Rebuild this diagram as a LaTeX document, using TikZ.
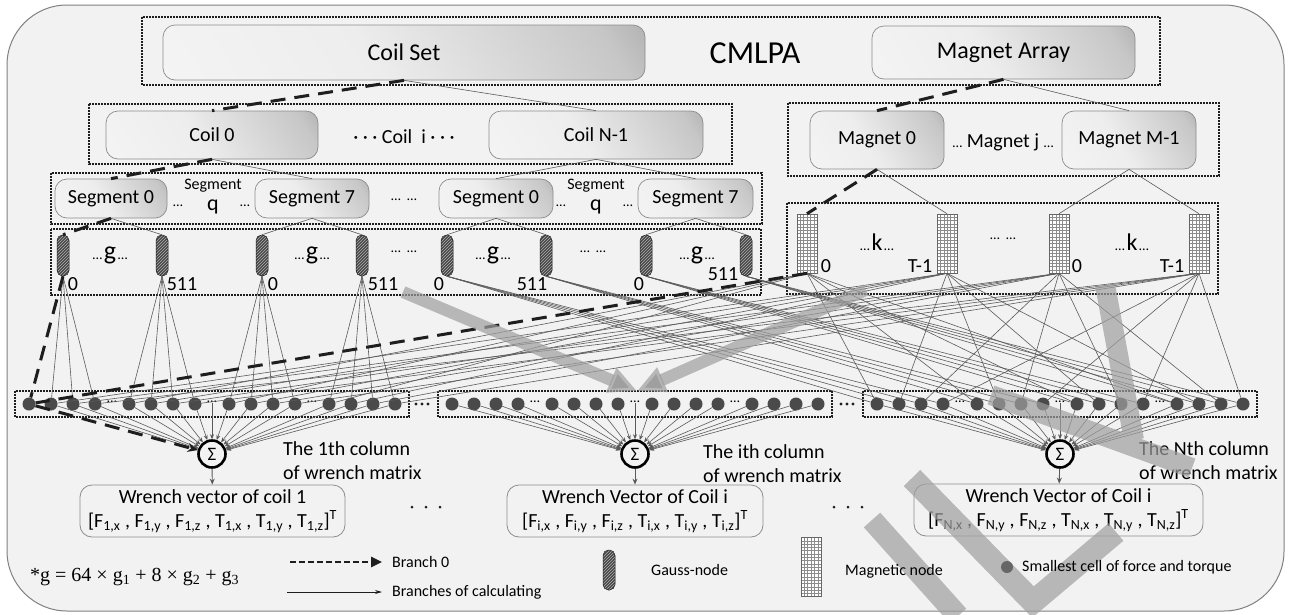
\documentclass[tikz,border=0pt]{standalone}
\usepackage{fontspec}
\setmainfont{Carlito}
\newfontfamily\seriffont{Liberation Serif}
\usetikzlibrary{arrows.meta,patterns,calc}

\definecolor{bgfill}{HTML}{F2F2F2}
\definecolor{framec}{HTML}{808080}
\definecolor{ink}{HTML}{1E1E1E}
\definecolor{wirec}{HTML}{5A5A5A}
\definecolor{cellc}{HTML}{4A4A4A}
\definecolor{bandc}{HTML}{9F9F9F}
\definecolor{boxline}{HTML}{8C8C8C}

\pgfdeclarehorizontalshading{boxshade}{100bp}{color(0bp)=(white!97!black); color(45bp)=(white!93!black); color(78bp)=(black!22); color(100bp)=(black!48)}

\newcommand\fsz[1]{\fontsize{#1}{#1}\selectfont}

\begin{document}
\begin{tikzpicture}[x=1pt,y=-1pt,
  every node/.style={inner sep=0pt},
  grp/.style={draw=ink, line width=1.1pt, dash pattern=on 1.6pt off 1.4pt},
  gbox/.style={draw=boxline, line width=0.7pt, rounded corners=12pt, shading=boxshade, shading angle=32},
  plainbox/.style={draw=boxline, line width=0.8pt, rounded corners=12pt, fill=bgfill, align=center},
  gauss/.style={draw=ink, line width=0.5pt, rounded corners=5.5pt, minimum width=12pt, minimum height=41pt,
    preaction={fill=black!72}, pattern=north east lines, pattern color=black!30},
  magn/.style={draw=black!60, fill=white, line width=0.6pt, minimum width=20pt, minimum height=59pt,
    path picture={
      \foreach \k in {1,...,5}
        \draw[black!45, line width=0.35pt]
          ($(path picture bounding box.north west)!\k/6!(path picture bounding box.north east)$) --
          ($(path picture bounding box.south west)!\k/6!(path picture bounding box.south east)$);
      \foreach \k in {1,...,17}
        \draw[black!45, line width=0.35pt]
          ($(path picture bounding box.north west)!\k/18!(path picture bounding box.south west)$) --
          ($(path picture bounding box.north east)!\k/18!(path picture bounding box.south east)$);
    }},
  cell/.style={circle, fill=cellc, minimum size=13pt},
  sig/.style={circle, draw=black, line width=2.6pt, fill=bgfill, minimum size=27pt, font=\fsz{19}},
  wire/.style={draw=wirec, line width=0.6pt},
  tosum/.style={wire, -{Stealth[length=5pt,width=4pt]}},
  branch/.style={draw=ink, line width=3pt, dash pattern=on 15pt off 9pt},
  band/.style={draw=bandc, draw opacity=0.7, line width=13pt},
  txt/.style={font=\fsz{20}},
  lgd/.style={font=\fsz{16}, anchor=west}
]
\useasboundingbox (0,0) rectangle (1291,614);

% outer frame
\draw[framec, line width=1pt, fill=bgfill, rounded corners=60pt] (7,5) rectangle (1284,611);

% ---------------- top level ----------------
\draw[grp] (142,17) rectangle (1160,85);
\node[gbox, minimum width=482pt, minimum height=55pt, font=\fsz{24}] (coilset) at (404,52.5) {Coil Set};
\node[font=\fsz{32}] (cmlpa) at (755,53) {CMLPA};
\node[gbox, minimum width=263pt, minimum height=53pt, font=\fsz{24}] (magarr) at (1003.5,52.5) {Magnet Array};

% ---------------- coils and magnets ----------------
\draw[grp] (89,104) rectangle (732,164);
\node[gbox, minimum width=212pt, minimum height=48pt, txt] (coil0) at (212,135) {Coil 0};
\node[txt] (coili) at (404,137) {· · · Coil \ i · · ·};
\node[gbox, minimum width=214pt, minimum height=48pt, txt] (coilN) at (596,135) {Coil N-1};

\draw[grp] (788,103) rectangle (1219,176);
\node[gbox, minimum width=134pt, minimum height=58pt, txt] (mag0) at (877,140) {Magnet 0};
\node[txt] (magj) at (1003,142) {{\fsz{14}…} Magnet j {\fsz{14}…}};
\node[gbox, minimum width=134pt, minimum height=58pt, txt] (magM) at (1129,140) {Magnet M-1};

% ---------------- segments ----------------
\draw[grp] (51,173) rectangle (762,224);
\node[gbox, minimum width=112pt, minimum height=39pt, txt] (seg0a) at (111,198.5) {Segment 0};
\node[gbox, minimum width=114pt, minimum height=39pt, txt] (seg7a) at (312,198.5) {Segment 7};
\node[gbox, minimum width=114pt, minimum height=39pt, txt] (seg0b) at (496,198.5) {Segment 0};
\node[gbox, minimum width=115pt, minimum height=39pt, txt] (seg7b) at (695.5,198.5) {Segment 7};
\foreach \n/\x in {a/213, b/596}{
  \node[font=\fsz{16}] (sq\n) at (\x,186) {Segment};
  \node[font=\fsz{22}] (q\n) at (\x,207) {q};
  \node[font=\fsz{14}] (sql\n) at (\x-35,206) {…};
  \node[font=\fsz{14}] (sqr\n) at (\x+32,206) {…};
}
\node[font=\fsz{14}] (segdots) at (404,200) {…\ \ …};

% ---------------- Gauss nodes ----------------
\draw[grp] (51,229) rectangle (761,295);
\foreach \i/\x in {1/63, 2/162, 3/262, 4/362, 5/447, 6/546, 7/646, 8/746}
  \node[gauss] (ga\i) at (\x,255.5) {};
\foreach \n/\x/\y/\t in {l1/73/284/0, l2/182/284/511, l3/273/284/0, l4/383/284/511,
                         l5/439/284/0, l6/532/284/511, l7/639/284/0, l8/723/274/511}
  \node[txt] (g\n) at (\x,\y) {\t};
\foreach \n/\x in {a/110, b/312, c/493, d/697}
  \node (gg\n) at (\x,255) {{\fsz{14}…}\,{\fsz{26}g}\,{\fsz{14}…}};
\foreach \n/\x in {a/404, b/593}
  \node[font=\fsz{14}] (gd\n) at (\x,252) {…\ \ …};

% ---------------- magnetic nodes ----------------
\draw[grp] (787,203) rectangle (1218,294);
\foreach \i/\x in {1/807, 2/947, 3/1059, 4/1199}
  \node[magn] (mn\i) at (\x,243.5) {};
\foreach \n/\x/\t in {1/826/0, 2/920/T-1, 3/1077/0, 4/1172/T-1}
  \node[txt] (ml\n) at (\x,266) {\t};
\foreach \n/\x in {a/877, b/1132}
  \node (kk\n) at (\x,242) {{\fsz{14}…}\,{\fsz{24}k}\,{\fsz{14}…}};
\node[font=\fsz{14}] (kd) at (1003,239) {…\ \ …};

% ---------------- smallest cells, sums and wrench vectors ----------------
\foreach \g/\b in {1/29, 2/452, 3/877}{
  \draw[grp] (\b-14,391) rectangle (\b+380,417);
  \foreach \i/\o in {1/0,2/22,3/44,4/66,5/100,6/122,7/144,8/166,9/200,10/222,11/244,12/266,13/300,14/322,15/344,16/366}
    \node[cell] (c\g-\i) at (\b+\o,404) {};
  \foreach \e/\o in {1/83, 2/183, 3/283}
    \node[font=\fsz{14}] (e\g-\e) at (\b+\o,402) {…};
  \node[sig] (s\g) at (\b+183,454) {Σ};
}
\foreach \x in {422, 847}{
  \foreach \d in {-6,0,6} \fill[ink] (\x+\d,404) circle (1.7pt);
}

% thin wires: cells into the sums
\foreach \i in {2,...,16} \draw[tosum] (c1-\i) -- (s1);
\foreach \g in {2,3}{
  \foreach \i in {1,...,16} \draw[tosum] (c\g-\i) -- (s\g);
}
\foreach \g in {1,2,3} \draw[tosum] (e\g-2.south) -- (s\g);

\node[plainbox, minimum width=265pt, minimum height=52pt, font=\fontsize{20}{24}\selectfont] (w1) at (212.5,511)
  {Wrench vector of coil 1\\{[}F\textsubscript{1,x} , F\textsubscript{1,y} , F\textsubscript{1,z} , T\textsubscript{1,x} , T\textsubscript{1,y} , T\textsubscript{1,z}{]}\textsuperscript{T}};
\node[plainbox, minimum width=256pt, minimum height=52pt, font=\fontsize{20}{24}\selectfont] (w2) at (635,511)
  {Wrench Vector of Coil i\\{[}F\textsubscript{i,x} , F\textsubscript{i,y} , F\textsubscript{i,z} , T\textsubscript{i,x} , T\textsubscript{i,y} , T\textsubscript{i,z}{]}\textsuperscript{T}};
\node[plainbox, minimum width=289pt, minimum height=52pt, font=\fontsize{20}{24}\selectfont] (w3) at (1058.5,510)
  {Wrench Vector of Coil i\\{[}F\textsubscript{N,x} , F\textsubscript{N,y} , F\textsubscript{N,z} , T\textsubscript{N,x} , T\textsubscript{N,y} , T\textsubscript{N,z}{]}\textsuperscript{T}};
\foreach \g in {1,2,3}
  \draw[wire, line width=0.9pt, -{Stealth[length=6pt,width=5pt]}] (s\g) -- (w\g);
\foreach \x in {426, 848}{
  \foreach \d in {-14,0,14} \fill[ink] (\x+\d,507) circle (1.5pt);
}

\node[anchor=west, align=left, font=\fontsize{20}{24}\selectfont] (col1) at (283,461) {The 1th column\\of wrench matrix};
\node[anchor=west, align=left, font=\fontsize{20}{24}\selectfont] (col2) at (703,464) {The ith column\\of wrench matrix};
\node[anchor=west, align=left, font=\fontsize{20}{24}\selectfont] (col3) at (1139,461) {The Nth column\\of wrench matrix};

% ---------------- hierarchy wires ----------------
\draw[wire] (coilset.south) -- (coilN.north);
\draw[wire] (magarr.south) -- (magM.north);
\draw[wire] (coil0.south) -- (seg7a.north);
\draw[wire] (coilN.south) -- (seg0b.north);
\draw[wire] (coilN.south) -- (seg7b.north);
\draw[wire] (mag0.south) -- (mn2.north);
\draw[wire] (magM.south) -- (mn3.north);
\draw[wire] (magM.south) -- (mn4.north);
\draw[wire] (seg0a.south) -- (ga2.north);
\draw[wire] (seg7a.south) -- (ga3.north);
\draw[wire] (seg7a.south) -- (ga4.north);
\draw[wire] (seg0b.south) -- (ga5.north);
\draw[wire] (seg0b.south) -- (ga6.north);
\draw[wire] (seg7b.south) -- (ga7.north);
\draw[wire] (seg7b.south) -- (ga8.north);

% Gauss nodes into cells
\foreach \src/\tg/\lst in {ga1/1/{2,3,4}, ga2/1/{5,6,7,8}, ga3/1/{9,10,11,12}, ga4/1/{13,14,15,16},
                           ga5/3/{1,2,3,4}, ga6/3/{5,6,7,8}, ga7/3/{9,10,11,12}, ga8/3/{13,14,15,16}}
  \foreach \t in \lst \draw[wire] (\src.south) -- (c\tg-\t);

% magnetic nodes into cells
\foreach \m/\lst in {mn1/{5,9,13}, mn2/{2,6,10,14}, mn3/{3,7,11,15}, mn4/{4,8,12,16}}
  \foreach \t in \lst \draw[wire] (\m.south) -- (c1-\t);
\foreach \m/\lst in {mn1/{1,5,9,13}, mn2/{2,6,10,14}, mn3/{3,7,11,15}, mn4/{4,8,12,16}}
  \foreach \t in \lst \draw[wire] (\m.south) -- (c3-\t);

% branch 0
\draw[branch] (coilset.south) -- (coil0.north);
\draw[branch] (coil0.south) -- (seg0a.north);
\draw[branch] (seg0a.south) -- (ga1.north);
\draw[branch] (ga1.south) -- (c1-1);
\draw[branch] (magarr.south) -- (mag0.north);
\draw[branch] (mag0.south) -- (mn1.north);
\draw[branch] (mn1.south) -- (c1-1);
\draw[branch, -{Stealth[length=10pt,width=9pt]}] (c1-1) -- (s1);

% grey arrows into the i-th column
\coordinate (ga) at (403,292);
\coordinate (gb) at (866,290);
\coordinate (gt) at (637,391);
\draw[band, line width=12pt, -{Triangle[length=28pt,width=25pt]}] (ga) -- (gt);
\draw[band, line width=12pt, -{Triangle[length=28pt,width=25pt]}] (gb) -- (gt);

% grey overlay bands
\draw[band, line width=20pt] (1105,285) -- (1134,440) (991,395) -- (1192,468);
\draw[band, line width=23pt, line join=miter] (912,478) -- (1033,602) -- (1116,532);
\draw[band, line width=22pt] (872,520) -- (958,616);

% ---------------- legend ----------------
\node[anchor=west, font=\seriffont\fsz{20}] (formula) at (30,577)
  {*g = 64 × g\textsubscript{1} + 8 × g\textsubscript{2} + g\textsubscript{3}};
\coordinate (la) at (290,562);
\coordinate (lb) at (382,562);
\draw[draw=ink, line width=2.5pt, dash pattern=on 6pt off 3pt, -{Triangle[length=11pt,width=10pt]}] (la) -- (lb);
\node[lgd] (lbranch) at (392,562) {Branch 0};
\coordinate (lc) at (287,592);
\coordinate (ld) at (382,592);
\draw[draw=ink, line width=0.8pt, -{Stealth[length=7pt,width=4pt]}] (lc) -- (ld);
\node[lgd] (lcalc) at (392,592) {Branches of calculating};
\node[gauss, minimum height=40pt] (lgauss) at (609,570) {};
\node[lgd] (lgausst) at (651,570) {Gauss-node};
\node[magn] (lmag) at (811,567) {};
\node[lgd] (lmagt) at (845,571) {Magnetic node};
\node[cell, fill=black!60, minimum size=12pt] (lcell) at (1007,567) {};
\node[lgd] (lcellt) at (1022,567) {Smallest cell of force and torque};
\end{tikzpicture}
\end{document}
